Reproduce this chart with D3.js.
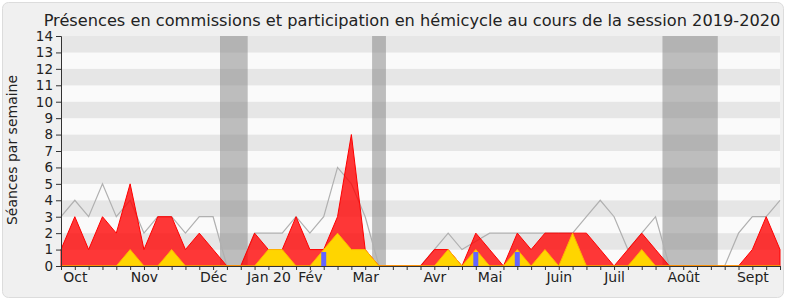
<!DOCTYPE html>
<meta charset="utf-8">
<script src="https://d3js.org/d3.v7.min.js"></script>
<style>
  body { margin: 0; background: #fff; }
  text { font-family: "DejaVu Sans", sans-serif; fill: #222; }
</style>
<div id="chart"></div>
<script>
// weekly values, session 2019-2020 (53 weeks)
var presences = [1,3,1,3,2,5,1,3,3,1,2,1,0,0,2,1,1,3,1,1,3,8,1,0,0,0,0,1,1,0,2,1,0,2,1,2,2,2,2,1,0,1,2,1,0,0,0,0,0,0,1,3,1];
var hemicycle = [0,0,0,0,0,1,0,0,1,0,0,0,0,0,0,1,1,0,0,1,2,1,1,0,0,0,0,0,1,0,1,0,0,1,0,1,0,2,0,0,0,0,1,0,0,0,0,0,0,0,0,0,0];
var mediane   = [3,4,3,5,3,4,2,3,3,2,3,3,0,0,2,2,2,3,2,3,6,5,3,0,0,0,0,1,2,1,1.5,2,2,2,2,2,2,2,3,4,3,1,2,3,0,0,0,0,0,2,3,3,4];
var questionWeeks = [19, 30, 33];
var questionValues = [0.85, 0.85, 0.85];
var vacances = [[12, 13], [23, 23], [44, 47]];
var monthLabels = ["Oct","Nov","Déc","Jan 20","Fév","Mar","Avr","Mai","Juin","Juil","Août","Sept"];
var monthWeeks = [1, 6, 11, 15, 18, 22, 27, 31, 36, 40, 45, 50];
var yTicks = d3.range(0, 15);

var W = 790, H = 300;
var margin = {top: 36, right: 10, bottom: 34, left: 61};

var svg = d3.select("#chart").append("svg")
    .attr("width", W).attr("height", H);

// frame
svg.append("rect")
    .attr("x", 2.5).attr("y", 2.5)
    .attr("width", 781).attr("height", 295)
    .attr("rx", 6)
    .attr("fill", "#f0f0f0")
    .attr("stroke", "#dcdcdc");

svg.append("text")
    .attr("x", 412).attr("y", 26)
    .attr("text-anchor", "middle")
    .style("font-size", "16.2px")
    .text("Présences en commissions et participation en hémicycle au cours de la session 2019-2020");

var x = d3.scaleLinear().domain([0, 52]).range([margin.left, W - margin.right]);
var y = d3.scaleLinear().domain([0, 14]).range([H - margin.bottom, margin.top]);

// stripes
svg.append("g").selectAll("rect")
  .data(d3.range(0, 14))
  .enter().append("rect")
    .attr("x", x(0))
    .attr("width", x(52) - x(0))
    .attr("y", function(d) { return y(d + 1); })
    .attr("height", function(d) { return y(d) - y(d + 1); })
    .attr("fill", function(d) { return d % 2 ? "#e6e6e6" : "#fafafa"; });

// holidays
svg.append("g").selectAll("rect")
  .data(vacances)
  .enter().append("rect")
    .attr("x", function(d) { return x(d[0] - 0.5); })
    .attr("width", function(d) { return x(d[1] + 0.5) - x(d[0] - 0.5); })
    .attr("y", y(14))
    .attr("height", y(0) - y(14))
    .attr("fill", "#808080")
    .attr("opacity", 0.5);

// median line
var line = d3.line().x(function(d, i) { return x(i); }).y(function(d) { return y(d); });
svg.append("path")
    .datum(mediane)
    .attr("d", line)
    .attr("fill", "none")
    .attr("stroke", "#b0b0b0")
    .attr("stroke-width", 1.2);

var area = d3.area().x(function(d, i) { return x(i); }).y0(y(0)).y1(function(d) { return y(d); });

svg.append("path")
    .datum(presences)
    .attr("d", area)
    .attr("fill", "#ff0000")
    .attr("fill-opacity", 0.78)
    .attr("stroke", "#ff0000")
    .attr("stroke-width", 1);

svg.append("path")
    .datum(hemicycle)
    .attr("d", area)
    .attr("fill", "#ffd500")
    .attr("stroke", "#ffb400")
    .attr("stroke-width", 1);

// questions
svg.append("g").selectAll("rect")
  .data(questionWeeks)
  .enter().append("rect")
    .attr("x", function(d) { return x(d) - 2.5; })
    .attr("width", 5)
    .attr("y", function(d, i) { return y(questionValues[i]); })
    .attr("height", function(d, i) { return y(0) - y(questionValues[i]); })
    .attr("fill", "#6464ff");

// axes
var yAxis = svg.append("g")
    .attr("transform", "translate(" + x(0) + ",0)")
    .call(d3.axisLeft(y).tickValues(yTicks).tickSize(5).tickPadding(3).tickFormat(d3.format("d")));
yAxis.selectAll("text").style("font-size", "13.5px");

var xAxis = svg.append("g")
    .attr("transform", "translate(0," + y(0) + ")")
    .call(d3.axisBottom(x).tickValues(d3.range(0, 53)).tickSize(4).tickFormat(""));

var xLabels = svg.append("g")
    .attr("transform", "translate(0," + y(0) + ")")
    .call(d3.axisBottom(x).tickValues(monthWeeks).tickSize(0).tickPadding(6)
      .tickFormat(function(d, i) { return monthLabels[i]; }));
xLabels.select(".domain").remove();
xLabels.selectAll("text").style("font-size", "14px");

svg.selectAll(".domain, .tick line").attr("stroke", "#333");

svg.append("text")
    .attr("transform", "translate(17,150) rotate(-90)")
    .attr("text-anchor", "middle")
    .style("font-size", "14px")
    .text("Séances par semaine");
</script>
